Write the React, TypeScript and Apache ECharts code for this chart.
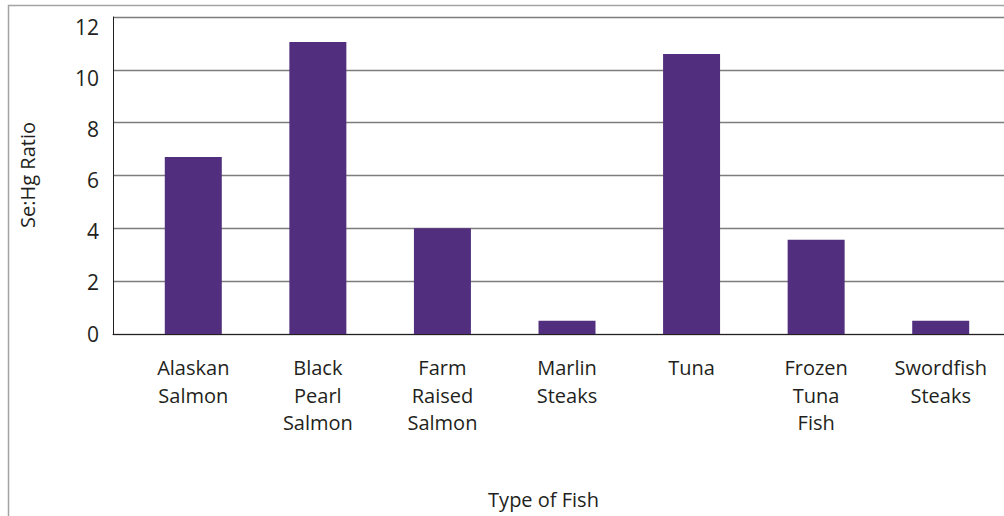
import React, { useEffect, useRef } from "react";
import * as echarts from "echarts";

const categories = [
  "Alaskan\nSalmon",
  "Black\nPearl\nSalmon",
  "Farm\nRaised\nSalmon",
  "Marlin\nSteaks",
  "Tuna",
  "Frozen\nTuna\nFish",
  "Swordfish\nSteaks",
];
const ratios = [6.7, 11.05, 4.0, 0.5, 10.6, 3.57, 0.5];
const yTicks = { min: 0, max: 12, interval: 2 };
const xTitle = "Type of Fish";
const yTitle = "Se:Hg Ratio";

const FONT = "'Open Sans', 'Noto Sans', sans-serif";
const TEXT = "#231f20";

export default function App() {
  const ref = useRef<HTMLDivElement>(null);
  useEffect(() => {
    if (!ref.current) return;
    const chart = echarts.init(ref.current, undefined, { renderer: "svg" });
    chart.setOption({
      animation: false,
      backgroundColor: "#ffffff",
      textStyle: { fontFamily: FONT },
      grid: [
        { left: 113, right: 0, top: 17, height: 317 },
        { left: 131, width: 872, top: 17, height: 317 },
        { left: 113, right: 0, top: 26.5, height: 307 },
      ],
      xAxis: [
        {
          type: "category",
          gridIndex: 0,
          data: ["x"],
          axisLine: { show: true, lineStyle: { color: TEXT, width: 1 } },
          axisTick: { show: false },
          axisLabel: { show: false },
        },
        {
          type: "category",
          gridIndex: 1,
          data: categories,
          axisLine: { show: false },
          axisTick: { show: false },
          axisLabel: {
            margin: 20,
            color: TEXT,
            fontSize: 20,
            lineHeight: 27.5,
            fontFamily: FONT,
            interval: 0,
            verticalAlign: "top",
          },
        },
        {
          type: "category",
          gridIndex: 2,
          data: ["x"],
          show: false,
        },
      ],
      yAxis: [
        {
          type: "value",
          gridIndex: 0,
          min: yTicks.min,
          max: yTicks.max,
          interval: yTicks.interval,
          axisLine: { show: true, lineStyle: { color: TEXT, width: 1 } },
          axisTick: { show: false },
          axisLabel: { show: false },
          splitLine: { show: true, lineStyle: { color: "#7d7d7d", width: 1.3 } },
        },
        {
          type: "value",
          gridIndex: 1,
          min: yTicks.min,
          max: yTicks.max,
          interval: yTicks.interval,
          show: false,
          splitLine: { show: false },
        },
        {
          type: "value",
          gridIndex: 2,
          min: yTicks.min,
          max: yTicks.max,
          interval: yTicks.interval,
          axisLine: { show: false },
          axisTick: { show: false },
          splitLine: { show: false },
          axisLabel: { color: TEXT, fontSize: 21, margin: 14, fontFamily: FONT },
        },
      ],
      series: [
        {
          type: "bar",
          xAxisIndex: 1,
          yAxisIndex: 1,
          data: ratios,
          barWidth: 57,
          itemStyle: { color: "#512f7e" },
        },
      ],
      graphic: [
        {
          type: "rect",
          shape: { x: 8.5, y: 5.5, width: 2000, height: 2000 },
          style: { fill: "none", stroke: "#a3a3a3", lineWidth: 1.5 },
          silent: true,
        },
        {
          type: "text",
          x: 543.5,
          y: 499,
          style: {
            text: xTitle,
            fill: TEXT,
            font: `20px ${FONT}`,
            align: "center",
            verticalAlign: "middle",
          },
        },
        {
          type: "text",
          x: 27,
          y: 175,
          rotation: Math.PI / 2,
          style: {
            text: yTitle,
            fill: TEXT,
            font: `20px ${FONT}`,
            align: "center",
            verticalAlign: "middle",
          },
        },
      ],
    });
    return () => chart.dispose();
  }, []);
  return (
    <div
      ref={ref}
      style={{ position: "absolute", left: 0, top: 0, width: 1004, height: 516 }}
    />
  );
}
